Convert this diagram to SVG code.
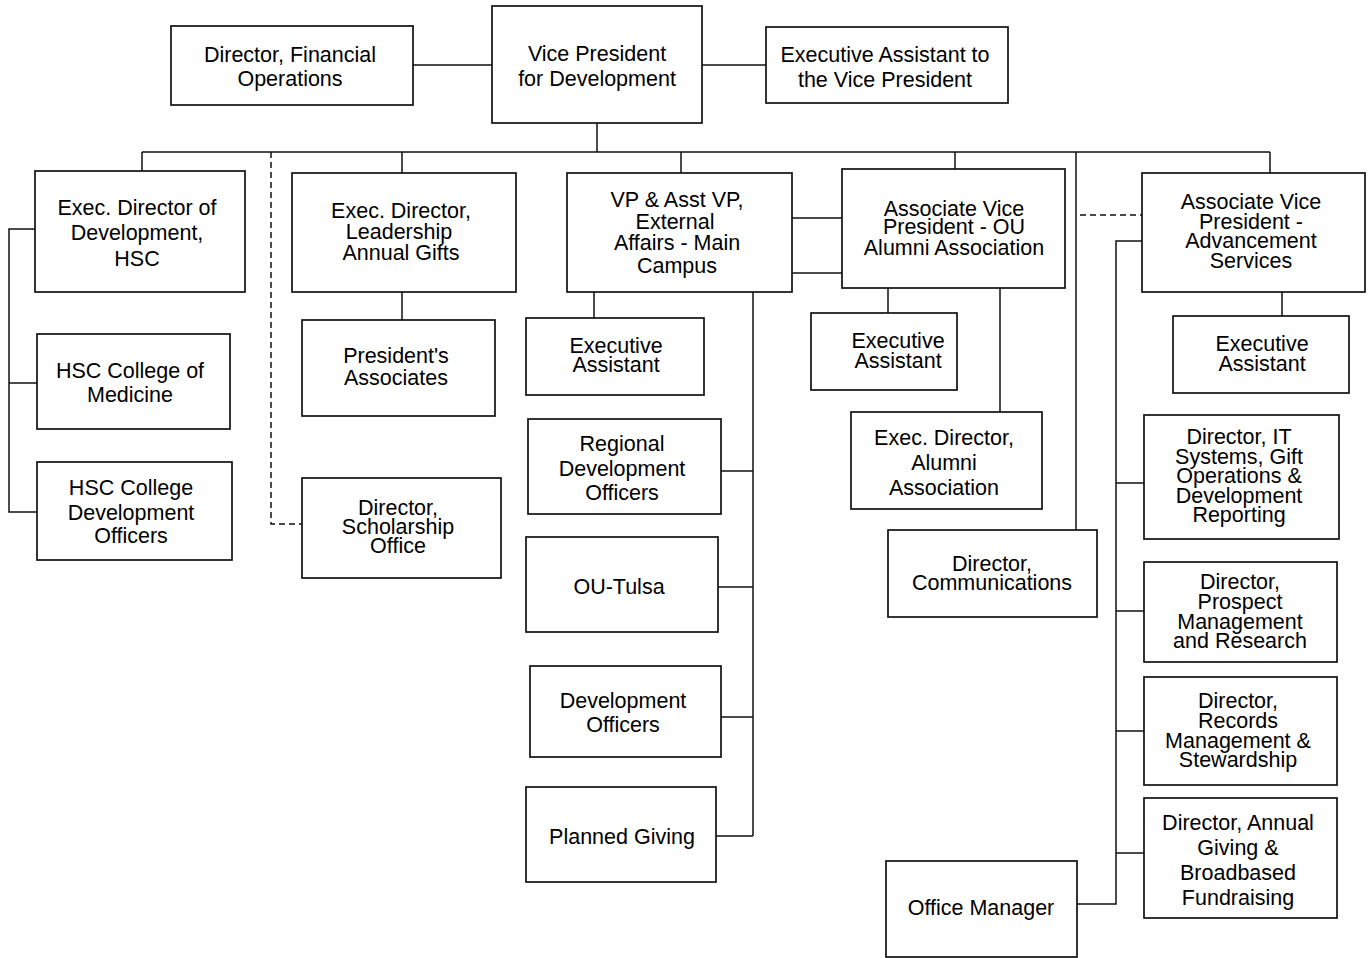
<svg xmlns="http://www.w3.org/2000/svg" width="1372" height="958" viewBox="0 0 1372 958">
<style>
.box{fill:#fff;stroke:#111;stroke-width:1.7}
.ln{fill:none;stroke:#111;stroke-width:1.5}
.ds{fill:none;stroke:#111;stroke-width:1.5;stroke-dasharray:6,4}
text{font-family:"Liberation Sans",Arial,sans-serif;font-size:21.5px;fill:#000;text-anchor:middle}
</style>
<rect width="1372" height="958" fill="#fff"/>
<g id="connectors">
<path class="ln" d="M413,65H492M702,65H766M597,123V152M142,152H1270"/>
<path class="ln" d="M142,152V171M402,152V173M681,152V173M955,152V169M1270,152V173M1076,152V530"/>
<path class="ds" d="M271,152V524H302M1080,215H1142"/>
<path class="ln" d="M35,229H9V512H37M9,383H37"/>
<path class="ln" d="M402,292V320"/>
<path class="ln" d="M792,218H842M792,273H842M594,292V318M753,292V836M721,471H753M718,587H753M721,717H753M716,836H753"/>
<path class="ln" d="M888,288V313M1000,288V412"/>
<path class="ln" d="M1282,292V316M1142,241H1116V904H1077M1116,483H1144M1116,611H1144M1116,731H1144M1116,853H1144"/>
</g>
<g id="n-fin"><rect class="box" x="171" y="26" width="242" height="79"/><text x="290" y="62">Director, Financial</text><text x="290" y="86">Operations</text></g>
<g id="n-vp"><rect class="box" x="492" y="6" width="210" height="117"/><text x="597" y="61">Vice President</text><text x="597" y="86">for Development</text></g>
<g id="n-eavp"><rect class="box" x="766" y="27" width="242" height="76"/><text x="885" y="62">Executive Assistant to</text><text x="885" y="87">the Vice President</text></g>
<g id="n-hsc"><rect class="box" x="35" y="171" width="210" height="121"/><text x="137" y="215">Exec. Director of</text><text x="137" y="240">Development,</text><text x="137" y="266">HSC</text></g>
<g id="n-med"><rect class="box" x="37" y="334" width="193" height="95"/><text x="130" y="378">HSC College of</text><text x="130" y="402">Medicine</text></g>
<g id="n-hscdo"><rect class="box" x="37" y="462" width="195" height="98"/><text x="131" y="495">HSC College</text><text x="131" y="520">Development</text><text x="131" y="543">Officers</text></g>
<g id="n-lag"><rect class="box" x="292" y="173" width="224" height="119"/><text x="401" y="218">Exec. Director,</text><text x="399" y="239">Leadership</text><text x="401" y="260">Annual Gifts</text></g>
<g id="n-pa"><rect class="box" x="302" y="320" width="193" height="96"/><text x="396" y="363">President's</text><text x="396" y="385">Associates</text></g>
<g id="n-sch"><rect class="box" x="302" y="478" width="199" height="100"/><text x="398" y="515">Director,</text><text x="398" y="534">Scholarship</text><text x="398" y="553">Office</text></g>
<g id="n-ext"><rect class="box" x="567" y="173" width="225" height="119"/><text x="677" y="207">VP &amp; Asst VP,</text><text x="675" y="229">External</text><text x="677" y="250">Affairs - Main</text><text x="677" y="273">Campus</text></g>
<g id="n-ea1"><rect class="box" x="526" y="318" width="178" height="77"/><text x="616" y="353">Executive</text><text x="616" y="372">Assistant</text></g>
<g id="n-rdo"><rect class="box" x="528" y="419" width="193" height="95"/><text x="622" y="451">Regional</text><text x="622" y="476">Development</text><text x="622" y="500">Officers</text></g>
<g id="n-tulsa"><rect class="box" x="526" y="537" width="192" height="95"/><text x="619" y="594">OU-Tulsa</text></g>
<g id="n-do"><rect class="box" x="530" y="666" width="191" height="91"/><text x="623" y="708">Development</text><text x="623" y="732">Officers</text></g>
<g id="n-pg"><rect class="box" x="526" y="787" width="190" height="95"/><text x="622" y="844">Planned Giving</text></g>
<g id="n-alum"><rect class="box" x="842" y="169" width="223" height="119"/><text x="954" y="216">Associate Vice</text><text x="954" y="234">President - OU</text><text x="954" y="255">Alumni Association</text></g>
<g id="n-ea2"><rect class="box" x="811" y="313" width="146" height="77"/><text x="898" y="348">Executive</text><text x="898" y="368">Assistant</text></g>
<g id="n-eda"><rect class="box" x="851" y="412" width="191" height="97"/><text x="944" y="445">Exec. Director,</text><text x="944" y="470">Alumni</text><text x="944" y="495">Association</text></g>
<g id="n-comm"><rect class="box" x="888" y="530" width="209" height="87"/><text x="992" y="571">Director,</text><text x="992" y="590">Communications</text></g>
<g id="n-adv"><rect class="box" x="1142" y="173" width="223" height="119"/><text x="1251" y="209">Associate Vice</text><text x="1251" y="229">President -</text><text x="1251" y="248">Advancement</text><text x="1251" y="268">Services</text></g>
<g id="n-ea3"><rect class="box" x="1173" y="316" width="176" height="77"/><text x="1262" y="351">Executive</text><text x="1262" y="371">Assistant</text></g>
<g id="n-it"><rect class="box" x="1144" y="415" width="195" height="124"/><text x="1239" y="444">Director, IT</text><text x="1239" y="464">Systems, Gift</text><text x="1239" y="483">Operations &amp;</text><text x="1239" y="503">Development</text><text x="1239" y="522">Reporting</text></g>
<g id="n-pros"><rect class="box" x="1144" y="562" width="193" height="100"/><text x="1240" y="589">Director,</text><text x="1240" y="609">Prospect</text><text x="1240" y="629">Management</text><text x="1240" y="648">and Research</text></g>
<g id="n-rec"><rect class="box" x="1144" y="677" width="193" height="108"/><text x="1238" y="708">Director,</text><text x="1238" y="728">Records</text><text x="1238" y="748">Management &amp;</text><text x="1238" y="767">Stewardship</text></g>
<g id="n-ann"><rect class="box" x="1144" y="798" width="193" height="120"/><text x="1238" y="830">Director, Annual</text><text x="1238" y="855">Giving &amp;</text><text x="1238" y="880">Broadbased</text><text x="1238" y="905">Fundraising</text></g>
<g id="n-om"><rect class="box" x="886" y="861" width="191" height="96"/><text x="981" y="915">Office Manager</text></g>
</svg>
